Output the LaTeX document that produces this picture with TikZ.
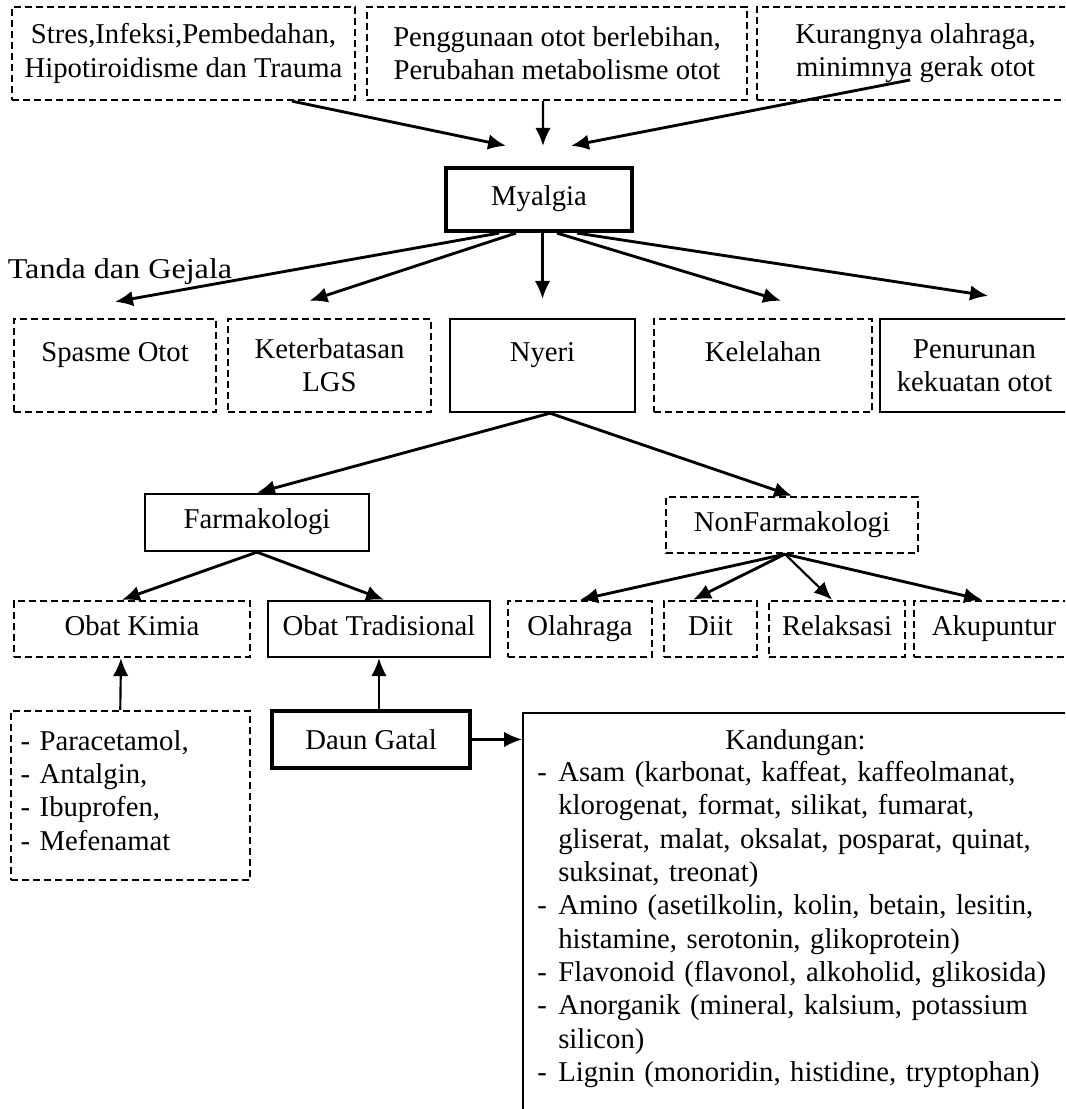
\documentclass[tikz,border=0pt]{standalone}
\usepackage{fontspec}
\setmainfont{Liberation Serif}
\usetikzlibrary{arrows.meta}

\begin{document}
\begin{tikzpicture}[font=\fontsize{12}{13.95}\selectfont,
  solidbox/.style={draw,line width=1pt,align=center,inner sep=4pt},
  dashbox/.style={solidbox,dash pattern=on 3pt off 1.6pt},
  boldbox/.style={solidbox,line width=1.8pt},
  oneline/.style={text height=8.5pt,text depth=3.1pt},
  highline/.style={text height=8.5pt,text depth=11.8pt},
  arr/.style={-{Latex[length=7.5pt,width=6.5pt]},line width=1.2pt}]
\useasboundingbox (0,0) rectangle (15.656,16.302);
\clip (0,0) rectangle (15.656,16.302);
\node[dashbox,minimum width=5.042cm,minimum height=1.367cm] (stres) at (2.697,15.516) {Stres,Infeksi,Pembedahan,\\Hipotiroidisme dan Trauma};
\node[dashbox,minimum width=5.586cm,minimum height=1.367cm] (pakai) at (8.188,15.516) {Penggunaan otot berlebihan,\\Perubahan metabolisme otot};
\node[dashbox,minimum width=4.660cm,minimum height=1.367cm] (kurang) at (13.458,15.516) {Kurangnya olahraga,\\minimnya gerak otot};
\node[boldbox,oneline,minimum width=2.734cm,minimum height=0.926cm] (myalgia) at (7.923,13.370) {Myalgia};
\node[xscale=1.12,transform shape] (gejala) at (1.764,12.304) {Tanda dan Gejala};
\node[dashbox,highline,minimum width=2.969cm,minimum height=1.367cm] (spasme) at (1.691,10.929) {Spasme Otot};
\node[dashbox,minimum width=2.984cm,minimum height=1.367cm] (lgs) at (4.844,10.929) {Keterbatasan\\LGS};
\node[solidbox,highline,minimum width=2.720cm,minimum height=1.367cm] (nyeri) at (7.975,10.929) {Nyeri};
\node[dashbox,highline,minimum width=3.205cm,minimum height=1.367cm] (lelah) at (11.216,10.929) {Kelelahan};
\node[solidbox,minimum width=2.778cm,minimum height=1.367cm] (kekuatan) at (14.325,10.929) {Penurunan\\kekuatan otot};
\node[solidbox,oneline,minimum width=3.293cm,minimum height=0.838cm] (farmako) at (3.778,8.622) {Farmakologi};
\node[dashbox,oneline,minimum width=3.704cm,minimum height=0.823cm] (nonfarmako) at (11.642,8.585) {NonFarmakologi};
\node[dashbox,oneline,minimum width=3.469cm,minimum height=0.823cm] (kimia) at (1.940,7.056) {Obat Kimia};
\node[solidbox,oneline,minimum width=3.263cm,minimum height=0.823cm] (tradisional) at (5.571,7.056) {Obat Tradisional};
\node[dashbox,oneline,minimum width=2.117cm,minimum height=0.823cm] (olahraga) at (8.526,7.056) {Olahraga};
\node[dashbox,oneline,minimum width=1.367cm,minimum height=0.823cm] (diit) at (10.444,7.056) {Diit};
\node[dashbox,oneline,minimum width=1.999cm,minimum height=0.823cm] (relaksasi) at (12.304,7.056) {Relaksasi};
\node[dashbox,oneline,minimum width=2.352cm,minimum height=0.823cm] (akupuntur) at (14.612,7.056) {Akupuntur};
\node[dashbox,align=left,text width=91.9pt,minimum height=2.484cm] (obat) at (1.918,4.608) {- Paracetamol,\\- Antalgin,\\- Ibuprofen,\\- Mefenamat\par\kern4.4pt};
\node[boldbox,minimum width=2.911cm,minimum height=0.838cm] (daun) at (5.454,5.432) {Daun Gatal};
\node[solidbox,anchor=north west,align=left,inner xsep=5.9pt,inner ysep=6.9pt,text width=216pt] (kandungan) at (7.673,5.836) {{\centering Kandungan:\par}\noindent\begin{tabular}{@{}p{8.8pt}@{}l@{}}
- & Asam (karbonat, kaffeat, kaffeolmanat,\\
  & klorogenat, format, silikat, fumarat,\\
  & gliserat, malat, oksalat, posparat, quinat,\\
  & suksinat, treonat)\\
- & Amino (asetilkolin, kolin, betain, lesitin,\\
  & histamine, serotonin, glikoprotein)\\
- & Flavonoid (flavonol, alkoholid, glikosida)\\
- & Anorganik (mineral, kalsium, potassium\\
  & silicon)\\
- & Lignin (monoridin, histidine, tryptophan)\\[40pt]
\end{tabular}};
\draw[arr] ([xshift=1.595cm]stres.south) -- ([xshift=-0.485cm,yshift=0.294cm]myalgia.north);
\draw[arr,line width=0.9pt] ([xshift=-0.206cm]pakai.south) -- ([xshift=0.059cm,yshift=0.294cm]myalgia.north);
\draw[arr] ([xshift=-0.081cm,yshift=-0.39cm]kurang.center) -- ([xshift=0.470cm,yshift=0.294cm]myalgia.north);
\draw[arr] ([xshift=-0.588cm]myalgia.south) -- ([yshift=0.235cm]spasme.north);
\draw[arr] ([xshift=-0.338cm]myalgia.south) -- ([xshift=-0.294cm,yshift=0.25cm]lgs.north);
\draw[arr,line width=0.9pt] (nyeri.north |- myalgia.south) -- ([yshift=0.279cm]nyeri.north);
\draw[arr] ([xshift=0.265cm]myalgia.south) -- ([xshift=0.265cm,yshift=0.25cm]lelah.north);
\draw[arr] ([xshift=0.559cm]myalgia.south) -- ([xshift=0.199cm,yshift=0.323cm]kekuatan.north);
\draw[arr] ([xshift=0.110cm]nyeri.south) -- (farmako.north);
\draw[arr] ([xshift=0.110cm]nyeri.south) -- (nonfarmako.north);
\draw[arr] (farmako.south) -- ([xshift=-0.147cm]kimia.north);
\draw[arr] (farmako.south) -- ([xshift=0.074cm]tradisional.north);
\draw[arr] ([xshift=-0.103cm]nonfarmako.south) -- (olahraga.north);
\draw[arr] ([xshift=-0.103cm]nonfarmako.south) -- ([xshift=-0.257cm]diit.north);
\draw[arr,line width=0.9pt] ([xshift=-0.103cm]nonfarmako.south) -- ([xshift=-0.074cm]relaksasi.north);
\draw[arr] ([xshift=-0.103cm]nonfarmako.south) -- ([xshift=-0.176cm]akupuntur.north);
\draw[arr,line width=0.9pt] ([xshift=-0.150cm]obat.north) -- ([xshift=-0.162cm]kimia.south);
\draw[arr,line width=0.9pt] (tradisional.south |- daun.north) -- (tradisional.south);
\draw[arr,line width=0.9pt] (daun.east) -- (daun.east -| kandungan.west);
\end{tikzpicture}
\end{document}
